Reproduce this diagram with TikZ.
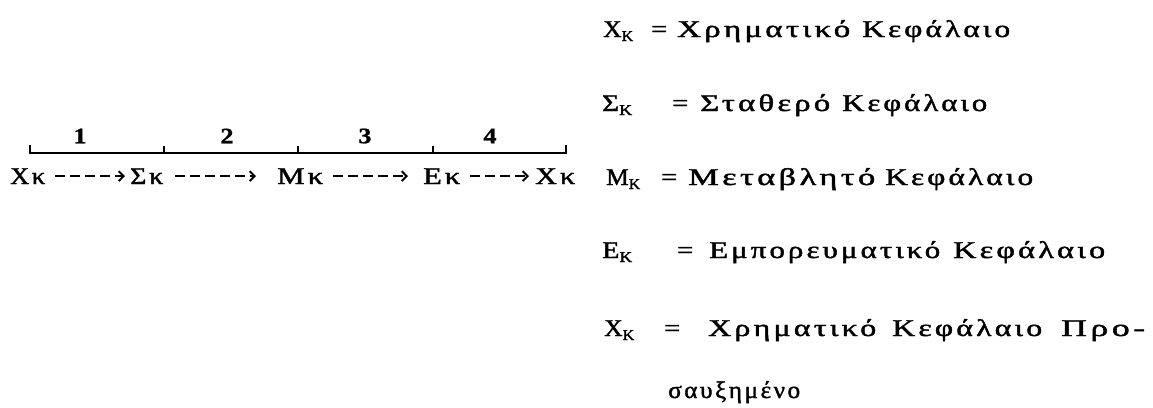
\documentclass[tikz,border=0pt]{standalone}
\usepackage{fontspec}
\usepackage{graphicx}
\setmainfont{Liberation Serif}
\newfontfamily\grf[LetterSpace=10,FakeBold=1.5]{Liberation Serif}
\newfontfamily\numf[FakeStretch=1.2,FakeBold=1]{Liberation Serif}
\usetikzlibrary{arrows.meta}
\newcommand{\sk}{\raisebox{-4pt}{\fontsize{15}{15}\selectfont K}}
\newcommand{\fw}[2]{\resizebox{#1pt}{\height}{#2}}
\begin{document}
\begin{tikzpicture}[x=1pt,y=-1pt,
  txt/.style={anchor=base west,inner sep=0pt,font=\grf\fontsize{24}{28}\selectfont},
  ltxt/.style={anchor=base west,inner sep=0pt,font=\grf\fontsize{24}{28}\selectfont},
  num/.style={inner sep=0pt,font=\numf\fontsize{22}{26}\selectfont\bfseries},
  dasharrow/.style={line width=1.9pt,dash pattern=on 10pt off 5pt,
    -{Straight Barb[length=5pt,width=10pt,line width=1.9pt]}},
  bracket/.style={line width=1.6pt}]
\useasboundingbox (0,0) rectangle (1153,407);
% left chain
\node[ltxt] (a1) at (10,184) {\fw{35}{Χκ}};
\node[ltxt] (a2) at (130,184) {\fw{33}{Σκ}};
\node[ltxt] (a3) at (277,184) {\fw{46}{Μκ}};
\node[ltxt] (a4) at (423,184) {\fw{37}{Εκ}};
\node[ltxt] (a5) at (535,184) {\fw{40}{Χκ}};
\draw[dasharrow,shorten <=10pt,shorten >=5pt] (a1) -- (a2);
\draw[dasharrow,shorten <=12pt,shorten >=21pt] (a2) -- (a3);
\draw[dasharrow,shorten <=10pt,shorten >=15pt] (a3) -- (a4);
\draw[dasharrow,shorten <=10pt,shorten >=6pt] (a4) -- (a5);
% bracket
\coordinate (b0) at (30,153);
\coordinate (b1) at (164,153);
\coordinate (b2) at (298,153);
\coordinate (b3) at (433,153);
\coordinate (b4) at (566,153);
\draw[bracket] ([yshift=8pt]b0) -- (b0) -- (b4) -- ([yshift=8pt]b4);
\foreach \c in {b1,b2,b3} \draw[bracket] (\c) -- ([yshift=7pt]\c);
\node[num] (n1) at (80,136) {1};
\node[num] (n2) at (227,136) {2};
\node[num] (n3) at (365,136) {3};
\node[num] (n4) at (490,136) {4};
% legend
\node[txt] (l1s) at (603,37) {\fw{30}{Χ\sk}};
\node[txt] (l1e) at (651,37) {\fw{16}{=}};
\node[txt] (l1a) at (677,37) {\fw{173}{Χρηματικό}};
\node[txt] (l1b) at (862,37) {\fw{148}{Κεφάλαιο}};
\node[txt] (l2s) at (602,111) {\fw{30}{Σ\sk}};
\node[txt] (l2e) at (672,111) {\fw{16}{=}};
\node[txt] (l2a) at (700,111) {\fw{130}{Σταθερό}};
\node[txt] (l2b) at (842,111) {\fw{145}{Κεφάλαιο}};
\node[txt] (l3s) at (606,185) {\fw{34}{Μ\sk}};
\node[txt] (l3e) at (661,185) {\fw{16}{=}};
\node[txt] (l3a) at (688,185) {\fw{187}{Μεταβλητό}};
\node[txt] (l3b) at (885,185) {\fw{148}{Κεφάλαιο}};
\node[txt] (l4s) at (602,258) {\fw{30}{Ε\sk}};
\node[txt] (l4e) at (677,258) {\fw{16}{=}};
\node[txt] (l4a) at (709,258) {\fw{231}{Εμπορευματικό}};
\node[txt] (l4b) at (953,258) {\fw{152}{Κεφάλαιο}};
\node[txt] (l5s) at (604,336) {\fw{30}{Χ\sk}};
\node[txt] (l5e) at (664,336) {\fw{16}{=}};
\node[txt] (l5a) at (708,336) {\fw{168}{Χρηματικό}};
\node[txt] (l5b) at (892,336) {\fw{150}{Κεφάλαιο}};
\node[txt] (l5c) at (1061,336) {\fw{84}{Προ-}};
\node[txt] (l6a) at (668,398) {\fw{132}{σαυξημένο}};
\end{tikzpicture}
\end{document}
